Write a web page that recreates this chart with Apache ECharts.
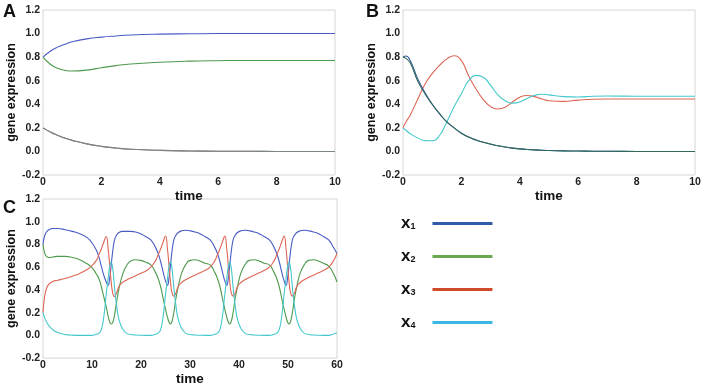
<!DOCTYPE html>
<html lang="en">
<head>
    <meta charset="utf-8" />
    <title>gene expression</title>
    <script src="https://cdn.jsdelivr.net/npm/echarts@6/dist/echarts.min.js"></script>
    <style>
        body { margin: 0; background: #fff; }
        #main { width: 704px; height: 387px; }
    </style>
</head>
<body>
<div id="main"></div>
<script type="text/javascript">
    // panel A
    let tA = [0, 0.25, 0.5, 0.75, 1, 1.5, 2, 2.5, 3, 4, 5, 6, 7, 8, 9, 10]
    let x1A = [0.8, 0.85, 0.885, 0.91, 0.93, 0.955, 0.97, 0.98, 0.988, 0.995, 0.998, 1, 1, 1, 1, 1]
    let x2A = [0.8, 0.74, 0.705, 0.688, 0.682, 0.69, 0.71, 0.728, 0.742, 0.757, 0.766, 0.77, 0.772, 0.772, 0.772, 0.772]
    let x3A = [0.2, 0.165, 0.137, 0.113, 0.094, 0.064, 0.043, 0.029, 0.019, 0.009, 0.004, 0.002, 0.001, 0, 0, 0]
    let x4A = [0.2, 0.165, 0.137, 0.113, 0.094, 0.064, 0.043, 0.029, 0.019, 0.009, 0.004, 0.002, 0.001, 0, 0, 0]

    // panel B
    let tB = [0, 0.1, 0.25, 0.5, 0.75, 1, 1.25, 1.5, 1.75, 2, 2.25, 2.5, 2.75, 3, 3.25, 3.5, 3.75, 4, 4.25, 4.5, 4.75, 5, 5.5, 6, 6.5, 7, 8, 9, 10]
    let x1B = [0.8, 0.81, 0.77, 0.62, 0.5, 0.4, 0.32, 0.25, 0.2, 0.155, 0.122, 0.097, 0.078, 0.062, 0.048, 0.037, 0.028, 0.022, 0.017, 0.013, 0.01, 0.008, 0.005, 0.003, 0.002, 0.001, 0, 0, 0]
    let x2B = [0.8, 0.79, 0.75, 0.6, 0.49, 0.4, 0.32, 0.25, 0.2, 0.155, 0.122, 0.097, 0.078, 0.062, 0.048, 0.037, 0.028, 0.022, 0.017, 0.013, 0.01, 0.008, 0.005, 0.003, 0.002, 0.001, 0, 0, 0]
    let x3B = [0.2, 0.25, 0.31, 0.44, 0.57, 0.66, 0.73, 0.785, 0.812, 0.77, 0.64, 0.53, 0.44, 0.38, 0.36, 0.375, 0.42, 0.46, 0.475, 0.465, 0.445, 0.43, 0.425, 0.435, 0.443, 0.445, 0.445, 0.445, 0.445]
    let x4B = [0.2, 0.18, 0.15, 0.115, 0.092, 0.09, 0.135, 0.25, 0.38, 0.49, 0.6, 0.645, 0.63, 0.56, 0.48, 0.43, 0.41, 0.42, 0.45, 0.475, 0.485, 0.48, 0.465, 0.462, 0.468, 0.47, 0.468, 0.468, 0.468]

    // panel C
    let tC = [0, 0.3, 0.7, 1.2, 2, 3, 4.5, 6, 7.5, 9,
        9.9, 10.9, 11.4, 11.9, 12.4, 12.9, 13.3, 13.6, 13.9, 14.2, 14.6, 15.0, 15.5, 16.2, 17.0, 17.9, 18.9, 19.9, 20.9,
        22.0, 23.0, 23.5, 24.0, 24.5, 25.0, 25.4, 25.7, 26.0, 26.3, 26.7, 27.1, 27.6, 28.3, 29.1, 30.0, 31.0, 32.0, 33.0,
        34.1, 35.1, 35.6, 36.1, 36.6, 37.1, 37.5, 37.8, 38.1, 38.4, 38.8, 39.2, 39.7, 40.4, 41.2, 42.1, 43.1, 44.1, 45.1,
        46.2, 47.2, 47.7, 48.2, 48.7, 49.2, 49.6, 49.9, 50.2, 50.5, 50.9, 51.3, 51.8, 52.5, 53.3, 54.2, 55.2, 56.2, 57.2,
        58.3, 59.2, 60]
    let x1C = [0.8, 0.87, 0.91, 0.93, 0.94, 0.94, 0.93, 0.915, 0.895, 0.86,
        0.82, 0.75, 0.69, 0.61, 0.53, 0.47, 0.44, 0.5, 0.61, 0.73, 0.84, 0.88, 0.905, 0.915, 0.915, 0.915, 0.91, 0.895, 0.87,
        0.84, 0.77, 0.72, 0.65, 0.56, 0.48, 0.44, 0.5, 0.61, 0.73, 0.84, 0.88, 0.905, 0.92, 0.925, 0.92, 0.91, 0.895, 0.87,
        0.84, 0.77, 0.72, 0.65, 0.56, 0.48, 0.44, 0.5, 0.61, 0.73, 0.84, 0.88, 0.905, 0.92, 0.925, 0.92, 0.91, 0.895, 0.87,
        0.84, 0.77, 0.72, 0.65, 0.56, 0.48, 0.44, 0.5, 0.61, 0.73, 0.84, 0.88, 0.905, 0.92, 0.925, 0.92, 0.91, 0.895, 0.87,
        0.84, 0.78, 0.72]
    let x2C = [0.8, 0.73, 0.695, 0.685, 0.69, 0.695, 0.695, 0.685, 0.665, 0.63,
        0.6, 0.54, 0.5, 0.43, 0.34, 0.25, 0.17, 0.12, 0.1, 0.11, 0.18, 0.29, 0.41, 0.53, 0.61, 0.655, 0.665, 0.66, 0.645,
        0.62, 0.55, 0.5, 0.43, 0.33, 0.23, 0.16, 0.12, 0.1, 0.12, 0.2, 0.32, 0.43, 0.55, 0.62, 0.66, 0.665, 0.655, 0.635,
        0.62, 0.55, 0.5, 0.43, 0.33, 0.23, 0.16, 0.12, 0.1, 0.12, 0.2, 0.32, 0.43, 0.55, 0.62, 0.66, 0.665, 0.655, 0.635,
        0.62, 0.55, 0.5, 0.43, 0.33, 0.23, 0.16, 0.12, 0.1, 0.12, 0.2, 0.32, 0.43, 0.55, 0.62, 0.66, 0.665, 0.655, 0.635,
        0.61, 0.55, 0.47]
    let x3C = [0.2, 0.33, 0.41, 0.45, 0.475, 0.485, 0.5, 0.52, 0.545, 0.58,
        0.61, 0.66, 0.71, 0.76, 0.82, 0.87, 0.76, 0.62, 0.48, 0.38, 0.34, 0.37, 0.43, 0.465, 0.485, 0.505, 0.525, 0.545, 0.565,
        0.6, 0.66, 0.71, 0.76, 0.82, 0.875, 0.76, 0.62, 0.48, 0.38, 0.345, 0.37, 0.43, 0.465, 0.49, 0.51, 0.53, 0.55, 0.57,
        0.6, 0.66, 0.71, 0.76, 0.82, 0.875, 0.76, 0.62, 0.48, 0.38, 0.345, 0.37, 0.43, 0.465, 0.49, 0.51, 0.53, 0.55, 0.57,
        0.6, 0.66, 0.71, 0.76, 0.82, 0.875, 0.76, 0.62, 0.48, 0.38, 0.345, 0.37, 0.43, 0.465, 0.49, 0.51, 0.53, 0.55, 0.57,
        0.6, 0.65, 0.72]
    let x4C = [0.2, 0.16, 0.12, 0.085, 0.05, 0.025, 0.008, 0.002, 0, 0,
        0, 0.01, 0.02, 0.05, 0.16, 0.36, 0.5, 0.6, 0.645, 0.6, 0.42, 0.27, 0.14, 0.06, 0.02, 0.008, 0.003, 0.001, 0,
        0, 0.01, 0.02, 0.05, 0.16, 0.36, 0.5, 0.6, 0.645, 0.6, 0.42, 0.27, 0.14, 0.06, 0.02, 0.008, 0.003, 0.001, 0,
        0, 0.01, 0.02, 0.05, 0.16, 0.36, 0.5, 0.6, 0.645, 0.6, 0.42, 0.27, 0.14, 0.06, 0.02, 0.008, 0.003, 0.001, 0,
        0, 0.01, 0.02, 0.05, 0.16, 0.36, 0.5, 0.6, 0.645, 0.6, 0.42, 0.27, 0.14, 0.06, 0.02, 0.008, 0.003, 0.001, 0,
        0, 0.01, 0.02]

    let names = ['x1', 'x2', 'x3', 'x4']
    let yTicksMin = -0.2
    let yTicksMax = 1.2

    let colorX1 = '#4a5cc4'
    let colorX2 = '#4e9a4e'
    let colorX3 = '#dd6655'
    let colorX4 = '#44c8cc'
    let legendColors = ['#2e5ca8', '#6aa84f', '#d04a2c', '#3ab8e4']

    let fontFamily = '"Liberation Sans", Arial, sans-serif'

    const pairs = (t, v) => t.map((x, i) => [x, v[i]])

    const makeLine = (name, idx, t, v, color) => ({
        name: name,
        type: 'line',
        xAxisIndex: idx,
        yAxisIndex: idx,
        data: pairs(t, v),
        showSymbol: false,
        smooth: 0.5,
        lineStyle: { width: 1.1, color: color },
        itemStyle: { color: color },
        silent: true,
    })

    const makeX = (idx, max, interval) => ({
        type: 'value',
        gridIndex: idx,
        min: 0,
        max: max,
        interval: interval,
        name: 'time',
        nameLocation: 'middle',
        nameGap: 13,
        nameTextStyle: { fontSize: 13.5, fontWeight: 'bold', color: '#111', fontFamily: fontFamily },
        axisLine: { show: false },
        axisTick: { show: false },
        splitLine: { show: false },
        axisLabel: { margin: 2, fontSize: 10.5, fontWeight: 'bold', color: '#222', fontFamily: fontFamily },
    })

    const makeY = (idx) => ({
        type: 'value',
        gridIndex: idx,
        min: yTicksMin,
        max: yTicksMax,
        interval: 0.2,
        name: 'gene expression',
        nameLocation: 'middle',
        nameGap: 25,
        nameTextStyle: { fontSize: 12.5, fontWeight: 'bold', color: '#111', fontFamily: fontFamily },
        axisLine: { show: false },
        axisTick: { show: false },
        splitLine: { show: false },
        axisLabel: {
            margin: 3, fontSize: 10.5, fontWeight: 'bold', color: '#222', fontFamily: fontFamily,
            formatter: function (v) { return v.toFixed(1) }
        },
    })

    let chart = echarts.init(document.getElementById('main'))

    const letter = (txt, left, top) => ({
        text: txt, left: left, top: top, padding: 0,
        textStyle: { fontSize: 18, fontWeight: 'bold', color: '#111', fontFamily: fontFamily }
    })

    chart.setOption({
        animation: false,
        title: [letter('A', 3, 3), letter('B', 366, 3), letter('C', 3, 199)],
        grid: [
            { left: 43, top: 10, width: 292, height: 165, show: true, borderColor: '#d6d6d6', borderWidth: 1 },
            { left: 403, top: 10, width: 292, height: 165, show: true, borderColor: '#d6d6d6', borderWidth: 1 },
            { left: 43, top: 199, width: 294, height: 165, show: true, borderColor: '#d6d6d6', borderWidth: 1 },
        ],
        xAxis: [makeX(0, 10, 2), makeX(1, 10, 2), makeX(2, 60, 10)],
        yAxis: [makeY(0), makeY(1), makeY(2)],
        legend: {
            orient: 'vertical',
            left: 401,
            top: 215,
            padding: 0,
            align: 'right',
            icon: 'rect',
            itemWidth: 60,
            itemHeight: 3,
            itemGap: 16,
            selectedMode: false,
            data: names.map((n, i) => ({ name: n, itemStyle: { color: legendColors[i] } })),
            formatter: function (n) { return '{x|x}{s|' + n.slice(1) + '}' },
            textStyle: {
                rich: {
                    x: { fontSize: 17, fontWeight: 'bold', color: '#111', fontFamily: fontFamily, lineHeight: 19 },
                    s: { fontSize: 9, fontWeight: 'bold', color: '#111', fontFamily: fontFamily, padding: [7, 12, 0, 0] },
                }
            }
        },
        series: [
            makeLine('x1', 0, tA, x1A, colorX1),
            makeLine('x2', 0, tA, x2A, colorX2),
            makeLine('x3', 0, tA, x3A, '#8a7a78'),
            makeLine('x4', 0, tA, x4A, '#7c8686'),
            makeLine('x3', 1, tB, x3B, colorX3),
            makeLine('x4', 1, tB, x4B, colorX4),
            makeLine('x1', 1, tB, x1B, '#3a5a9a'),
            makeLine('x2', 1, tB, x2B, '#2f6a5c'),
            makeLine('x1', 2, tC, x1C, colorX1),
            makeLine('x2', 2, tC, x2C, colorX2),
            makeLine('x3', 2, tC, x3C, colorX3),
            makeLine('x4', 2, tC, x4C, colorX4),
        ]
    })
</script>
</body>
</html>
